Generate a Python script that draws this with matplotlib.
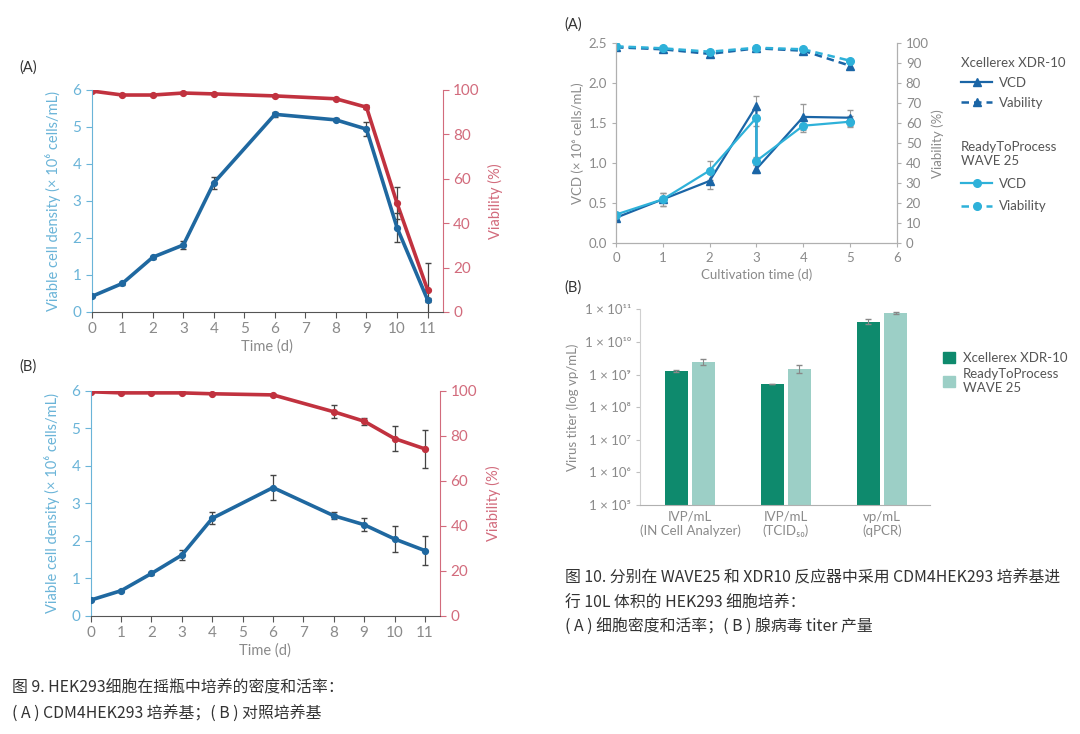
import numpy as np
import matplotlib
matplotlib.use("Agg")
import matplotlib.pyplot as plt
from matplotlib.lines import Line2D
from matplotlib.patches import Patch
from matplotlib.ticker import FixedLocator, FuncFormatter

plt.rcParams['font.family'] = ['Lato', 'Noto Sans CJK SC', 'DejaVu Sans']

# ---- Fig 9: shake flask, CDM4HEK293 (A) and control medium (B)
days = [0, 1, 2, 3, 4, 6, 8, 9, 10, 11]
vcd_a = [0.42, 0.77, 1.48, 1.81, 3.49, 5.34, 5.19, 4.94, 2.28, 0.33]
vcd_a_err = [0.02, 0.03, 0.04, 0.12, 0.17, 0.07, 0.04, 0.18, 0.40, 0.05]
via_a = [99.5, 97.7, 97.7, 98.6, 98.2, 97.3, 96.0, 92.2, 49.0, 10.0]
via_a_err = [0.3, 0.5, 0.5, 0.4, 0.4, 0.5, 0.5, 0.8, 7.2, 12.0]
vcd_b = [0.42, 0.67, 1.13, 1.62, 2.60, 3.42, 2.67, 2.43, 2.05, 1.74]
vcd_b_err = [0.02, 0.03, 0.04, 0.14, 0.16, 0.34, 0.10, 0.18, 0.35, 0.38]
via_b = [99.6, 99.1, 99.1, 99.1, 98.7, 98.2, 90.7, 86.5, 78.8, 74.2]
via_b_err = [0.3, 0.3, 0.3, 0.3, 0.3, 0.3, 2.8, 1.5, 5.4, 8.5]

# ---- Fig 10 (A): bioreactors, day 3 has two points (before / after split)
t_bio = [0, 1, 2, 3, 3, 4, 5]
vcd_xdr = [0.32, 0.55, 0.78, 1.72, 0.93, 1.58, 1.57]
vcd_xdr_err = [0.02, 0.08, 0.10, 0.12, 0.05, 0.16, 0.10]
vcd_wave = [0.36, 0.55, 0.91, 1.57, 1.03, 1.47, 1.52]
vcd_wave_err = [0.02, 0.08, 0.12, 0.10, 0.05, 0.08, 0.07]
t_via = [0, 1, 2, 3, 4, 5]
via_xdr = [98.0, 97.0, 94.7, 97.5, 96.3, 88.8]
via_wave = [98.5, 97.5, 95.8, 97.8, 97.0, 91.3]

# ---- Fig 10 (B): virus titer
titer_groups = ['IVP/mL\n(IN Cell Analyzer)', 'IVP/mL\n(TCID₅₀)', 'vp/mL\n(qPCR)']
titer_xdr = [1.3e9, 5.1e8, 4.2e10]
titer_xdr_err = [0.1e9, 0.0, 0.7e10]
titer_wave = [2.4e9, 1.5e9, 7.7e10]
titer_wave_err = [0.5e9, 0.4e9, 0.3e10]

BLUE = '#1f68a0'
RED = '#c1323f'
LBLUE = '#6ab4d8'
PINK = '#d26b7c'
GREY = '#8a8a8a'
XDR = '#1a65a6'
WAVE = '#2eb1d9'
DGREEN = '#0e8a6d'
LGREEN = '#9ccfc6'

fig = plt.figure(figsize=(10.8, 7.34), dpi=100)


def flask_panel(rect, vcd, vcd_err, via, via_err):
    ax = fig.add_axes(rect)
    ax2 = ax.twinx()
    ax2.errorbar(days, via, yerr=via_err, color=RED, lw=2.6, marker='o', ms=4.2,
                 ecolor='#444444', elinewidth=0.9, capsize=2.5, zorder=2)
    ax.errorbar(days, vcd, yerr=vcd_err, color=BLUE, lw=2.6, marker='o', ms=4.2,
                ecolor='#444444', elinewidth=0.9, capsize=2.5, zorder=3)
    ax.set_xlim(0, 11.5)
    ax.set_ylim(0, 6)
    ax2.set_ylim(0, 100)
    ax.set_xticks(range(12))
    ax.set_yticks(range(7))
    ax2.set_yticks(range(0, 101, 20))
    for s in ['top', 'right']:
        ax.spines[s].set_visible(False)
    for s in ['top', 'left', 'bottom']:
        ax2.spines[s].set_visible(False)
    ax.spines['left'].set_color(LBLUE)
    ax.spines['bottom'].set_color('#555555')
    ax2.spines['right'].set_color(PINK)
    ax.tick_params(axis='y', colors=LBLUE, labelsize=11, length=4)
    ax.tick_params(axis='x', colors='#555555', labelcolor=GREY, labelsize=11, length=4)
    ax2.tick_params(axis='y', colors=PINK, labelsize=11, length=4)
    ax.set_ylabel('Viable cell density (× 10⁶ cells/mL)', color=LBLUE, fontsize=10.5, labelpad=8)
    ax2.set_ylabel('Viability (%)', color=PINK, fontsize=10.5, labelpad=6)
    ax.set_xlabel('Time (d)', color=GREY, fontsize=10.5, labelpad=2)
    ax.set_zorder(ax2.get_zorder() + 1)
    ax.patch.set_visible(False)
    return ax


flask_panel([0.085, 0.575, 0.325, 0.3025], vcd_a, vcd_a_err, via_a, via_a_err)
flask_panel([0.084, 0.161, 0.3235, 0.3065], vcd_b, vcd_b_err, via_b, via_b_err)
fig.text(0.018, 0.908, '(A)', fontsize=10.5, color='#333333', va='center')
fig.text(0.018, 0.501, '(B)', fontsize=10.5, color='#333333', va='center')

# ---- right (A)
axr = fig.add_axes([0.5704, 0.6685, 0.26, 0.2725])
axr2 = axr.twinx()
axr.errorbar(t_bio, vcd_xdr, yerr=vcd_xdr_err, color=XDR, lw=1.6, marker='^', ms=6,
             ecolor='#999999', elinewidth=0.8, capsize=2.5)
axr.errorbar(t_bio, vcd_wave, yerr=vcd_wave_err, color=WAVE, lw=1.6, marker='o', ms=5.5,
             ecolor='#999999', elinewidth=0.8, capsize=2.5)
axr2.plot(t_via, via_xdr, color=XDR, lw=1.8, ls=(0, (3, 2)), marker='^', ms=6)
axr2.plot(t_via, via_wave, color=WAVE, lw=1.8, ls=(0, (3, 2)), marker='o', ms=5.5)
axr.set_xlim(0, 6)
axr.set_ylim(0, 2.5)
axr2.set_ylim(0, 100)
axr.set_xticks(range(7))
axr.set_yticks(np.arange(0, 2.51, 0.5))
axr.yaxis.set_major_formatter(FuncFormatter(lambda v, p: '%.1f' % v))
axr2.set_yticks(range(0, 101, 10))
axr.spines['top'].set_visible(False)
axr2.spines['top'].set_visible(False)
for a in (axr, axr2):
    for s in ['left', 'right', 'bottom']:
        a.spines[s].set_color('#b0b0b0')
    a.tick_params(colors='#b0b0b0', labelcolor=GREY, labelsize=9.5, length=3)
axr.set_ylabel('VCD (× 10⁶ cells/mL)', color=GREY, fontsize=9.5, labelpad=3)
axr2.set_ylabel('Viability (%)', color=GREY, fontsize=9.5, labelpad=2)
axr.set_xlabel('Cultivation time (d)', color=GREY, fontsize=9.5, labelpad=3)
fig.text(0.523, 0.966, '(A)', fontsize=10.5, color='#333333', va='center')

h_xdr = [Line2D([], [], color=XDR, lw=1.6, marker='^', ms=6),
         Line2D([], [], color=XDR, lw=1.8, ls=(0, (3, 2)), marker='^', ms=6)]
h_wave = [Line2D([], [], color=WAVE, lw=1.6, marker='o', ms=5.5),
          Line2D([], [], color=WAVE, lw=1.8, ls=(0, (3, 2)), marker='o', ms=5.5)]
leg1 = fig.legend(h_xdr, ['VCD', 'Vability'], title='Xcellerex XDR-10', loc='upper left',
                  bbox_to_anchor=(0.881, 0.935), frameon=False, fontsize=9.5,
                  title_fontsize=9.5, alignment='left', handlelength=2.4,
                  labelspacing=0.6, borderpad=0.2, handletextpad=0.5)
leg1.get_title().set_color('#555555')
for t in leg1.get_texts():
    t.set_color('#555555')
leg2 = fig.legend(h_wave, ['VCD', 'Viability'], title='ReadyToProcess\nWAVE 25', loc='upper left',
                  bbox_to_anchor=(0.881, 0.82), frameon=False, fontsize=9.5,
                  title_fontsize=9.5, alignment='left', handlelength=2.4,
                  labelspacing=0.8, borderpad=0.2, handletextpad=0.5)
leg2.get_title().set_color('#555555')
for t in leg2.get_texts():
    t.set_color('#555555')

# ---- right (B)
axb = fig.add_axes([0.5926, 0.312, 0.2685, 0.2666])
x = np.arange(len(titer_groups))
w = 0.236
axb.bar(x - 0.141, titer_xdr, width=w, color=DGREEN, yerr=titer_xdr_err,
        error_kw=dict(ecolor='#888888', elinewidth=0.8, capsize=2.5))
axb.bar(x + 0.141, titer_wave, width=w, color=LGREEN, yerr=titer_wave_err,
        error_kw=dict(ecolor='#888888', elinewidth=0.8, capsize=2.5))
axb.set_yscale('log')
axb.set_ylim(1e5, 1e11)
axb.set_xlim(-0.52, 2.5)
sup = str.maketrans('0123456789', '⁰¹²³⁴⁵⁶⁷⁸⁹')
axb.yaxis.set_major_locator(FixedLocator([10.0 ** k for k in range(5, 12)]))
axb.yaxis.set_major_formatter(FuncFormatter(
    lambda v, p: '1 × 10' + str(int(round(np.log10(v)))).translate(sup)))
axb.yaxis.set_minor_locator(FixedLocator([]))
axb.set_xticks(x)
axb.set_xticklabels(titer_groups)
for s in ['top', 'right']:
    axb.spines[s].set_visible(False)
axb.spines['left'].set_color('#d0d0d0')
axb.spines['bottom'].set_color('#b0b0b0')
axb.tick_params(axis='y', colors='#c0c0c0', labelcolor=GREY, labelsize=9.5, length=3)
axb.tick_params(axis='x', length=0, labelcolor=GREY, labelsize=9.5, pad=4)
axb.set_ylabel('Virus titer (log vp/mL)', color=GREY, fontsize=9.5, labelpad=4)
fig.text(0.523, 0.608, '(B)', fontsize=10.5, color='#333333', va='center')
leg3 = fig.legend([Patch(color=DGREEN), Patch(color=LGREEN)],
                  ['Xcellerex XDR-10', 'ReadyToProcess\nWAVE 25'], loc='upper left',
                  bbox_to_anchor=(0.862, 0.536), frameon=False, fontsize=9.5,
                  handlelength=0.9, handleheight=0.9, handletextpad=0.6, labelspacing=0.3)
for t in leg3.get_texts():
    t.set_color('#555555')

# ---- captions
cap = dict(fontsize=11.4, color='#333333', va='center',
           family=['Noto Sans CJK SC', 'DejaVu Sans'])
fig.text(0.011, 1 - 688 / 734, '图 9. HEK293细胞在摇瓶中培养的密度和活率：', **cap)
fig.text(0.011, 1 - 714 / 734, '( A ) CDM4HEK293 培养基；( B ) 对照培养基', **cap)
fig.text(0.523, 1 - 578 / 734, '图 10. 分别在 WAVE25 和 XDR10 反应器中采用 CDM4HEK293 培养基进', **cap)
fig.text(0.523, 1 - 603 / 734, '行 10L 体积的 HEK293 细胞培养：', **cap)
fig.text(0.523, 1 - 627 / 734, '( A ) 细胞密度和活率；( B ) 腺病毒 titer 产量', **cap)

fig.savefig('out.png', dpi=100)
